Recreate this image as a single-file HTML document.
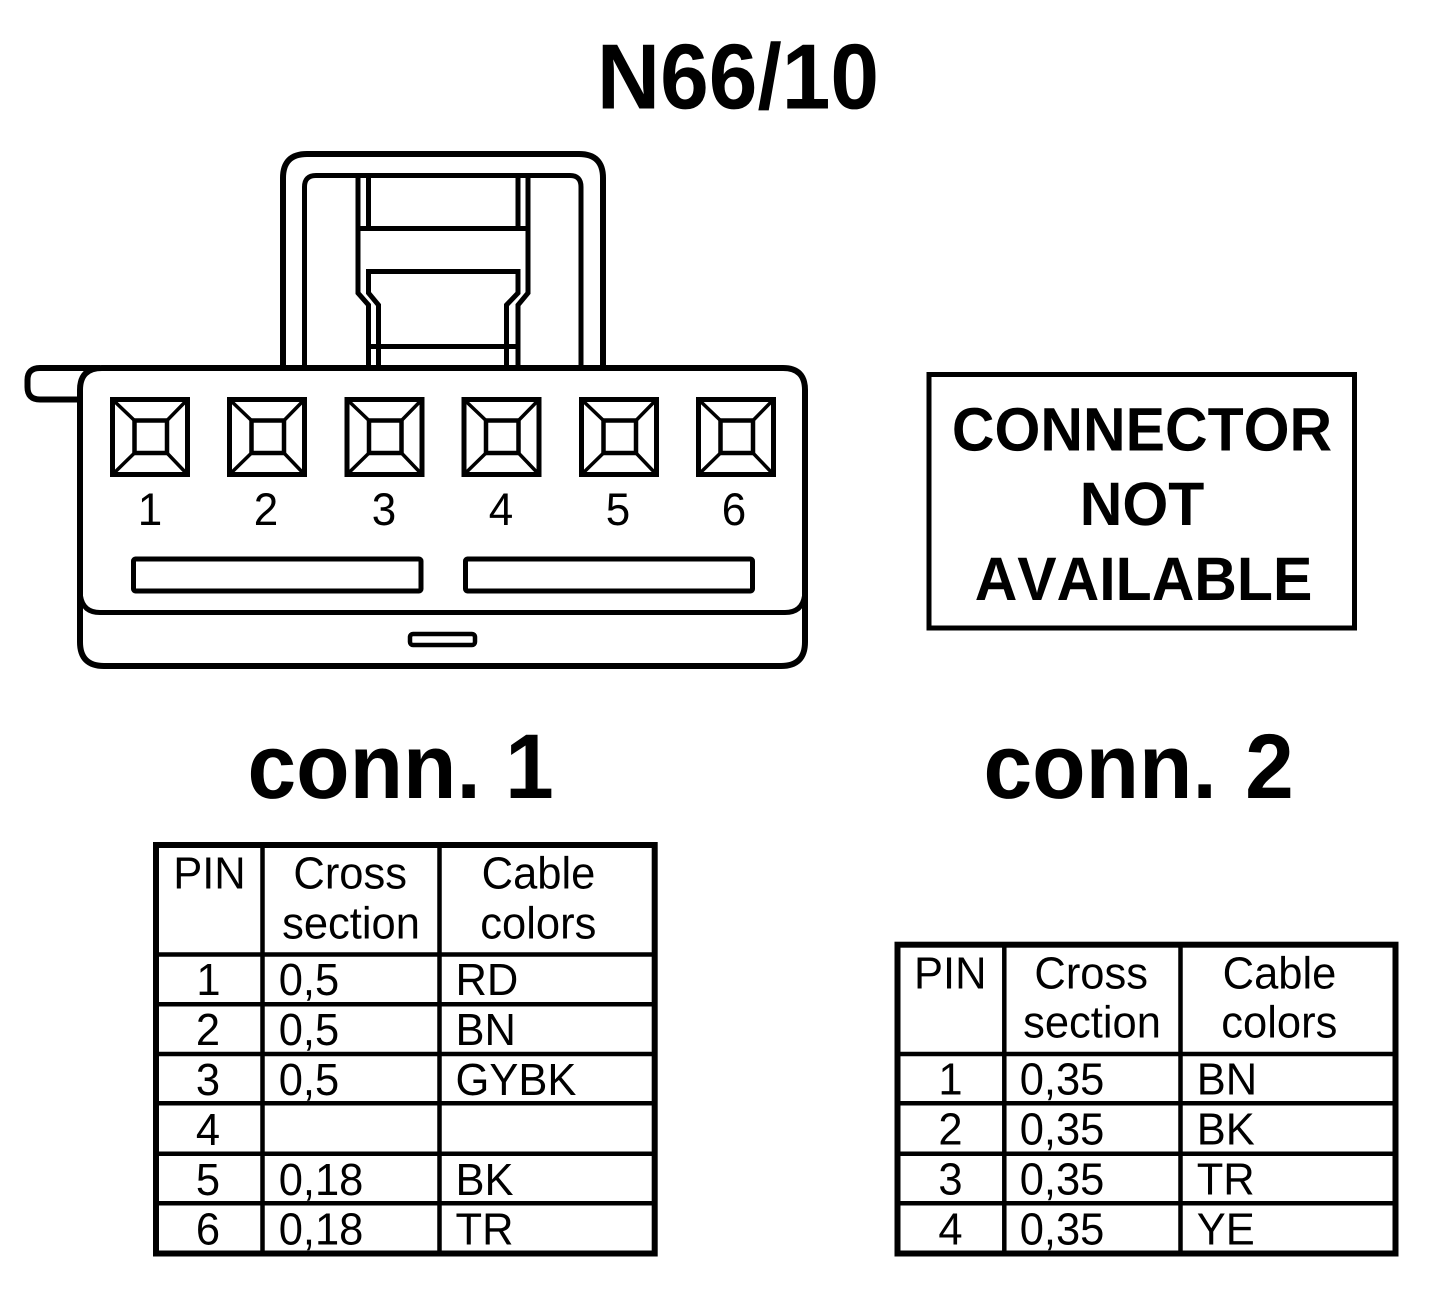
<!DOCTYPE html>
<html>
<head>
<meta charset="utf-8">
<title>N66/10</title>
<style>
html,body{margin:0;padding:0;background:#fff;}
svg{display:block;}
text{font-family:"Liberation Sans",Arial,sans-serif;fill:#000;font-kerning:none;text-rendering:geometricPrecision;}
.b{font-weight:bold;}
.t{font-size:43.5px;}
.p{font-size:44px;}
.h{font-size:87.5px;font-weight:bold;}
.c{font-size:59px;font-weight:bold;text-anchor:middle;}
.m{text-anchor:middle;}
.l{fill:none;stroke:#000;stroke-width:5;}
.i{fill:none;stroke:#000;stroke-width:4.5;}
.n{fill:none;stroke:#000;stroke-width:4.5;}
.g{fill:none;stroke:#000;stroke-width:6;}
</style>
</head>
<body>
<svg width="1456" height="1296" viewBox="0 0 1456 1296" xmlns="http://www.w3.org/2000/svg">
<defs>
<g id="sq">
<rect x="2.5" y="2.5" width="75" height="75" class="l"/>
<rect x="24.500" y="23.500" width="32.500" height="32.500" class="i"/>
<path d="M2 2L24.500 23.500M78 2L57 23.500M2 78L24.500 56M78 78L57 56" fill="none" stroke="#000" stroke-width="3.5"/>
</g>
</defs>
<rect width="1456" height="1296" fill="#fff"/>

<text transform="matrix(1 0 0 1.06 738 108.500)" class="h m">N66/10</text>

<!-- handle -->
<path d="M283 367V178Q283 154 307 154H579Q603 154 603 178V367" class="g"/>
<path d="M304.500 367V187Q304.500 175.500 316 175.500H570Q581 175.500 581 187V367" class="l"/>
<!-- strap -->
<path d="M358 176V293L368.500 305V367M528 176V293L518 305V367" class="l"/>
<path d="M368.500 176V228M518 176V228M358 228.500H528" class="l"/>
<path d="M378.500 367V305L368.500 293V271.500H518V293L506.500 305V367" class="l"/>
<path d="M368.500 346.500H518" class="l"/>

<!-- tab -->
<path d="M80 399.500H40Q27.500 399.500 27.500 387V380Q27.500 368 40 368H100" class="g"/>
<!-- body -->
<path d="M80 400V390Q80 368 102 368H783Q805 368 805 390V642Q805 666 781 666H104Q80 666 80 642Z" fill="#fff" stroke="#000" stroke-width="6"/>
<path d="M80.500 596Q83 612.500 100 612.500H785Q802 612.500 804.500 596" class="l"/>

<use href="#sq" x="110" y="397"/>
<use href="#sq" x="227" y="397"/>
<use href="#sq" x="344.500" y="397"/>
<use href="#sq" x="461.500" y="397"/>
<use href="#sq" x="579" y="397"/>
<use href="#sq" x="696" y="397"/>

<text transform="matrix(1 0 0 1.04 150 525)" class="p m">1</text>
<text transform="matrix(1 0 0 1.04 266 525)" class="p m">2</text>
<text transform="matrix(1 0 0 1.04 384 525)" class="p m">3</text>
<text transform="matrix(1 0 0 1.04 501 525)" class="p m">4</text>
<text transform="matrix(1 0 0 1.04 618 525)" class="p m">5</text>
<text transform="matrix(1 0 0 1.04 734 525)" class="p m">6</text>

<rect x="133.500" y="559" width="287.500" height="32" rx="2" class="l"/>
<rect x="465.500" y="559" width="287" height="32" rx="2" class="l"/>
<rect x="410" y="634" width="65" height="11" rx="3" class="n"/>

<!-- not available -->
<rect x="929" y="374.500" width="425.500" height="253.500" fill="none" stroke="#000" stroke-width="5"/>
<text transform="matrix(1 0 0 1.042 1142 450.700)" class="c">CONNECTOR</text>
<text transform="matrix(1 0 0 1.042 1142 525)" class="c">NOT</text>
<text transform="matrix(1 0 0 1.042 1143.500 600)" class="c">AVAILABLE</text>

<text transform="matrix(1 0 0 1.05 247.500 798)" class="h">conn. 1</text>
<text transform="matrix(1 0 0 1.05 983.500 798)" class="h" word-spacing="4">conn. 2</text>

<!-- table 1 -->
<rect x="156" y="845" width="498.700" height="408.500" class="g"/>
<path d="M262.500 845V1253M439.500 845V1253M156 954.500H654M156 1004.200H654M156 1054H654M156 1103.300H654M156 1153.800H654M156 1203.300H654" class="i"/>
<text transform="matrix(1 0 0 1.036 173.200 888.700)" class="t">PIN</text>
<text transform="matrix(1 0 0 1.036 350.200 888.700)" class="t m">Cross</text>
<text transform="matrix(1 0 0 1.036 351 938.300)" class="t m">section</text>
<text transform="matrix(1 0 0 1.036 538.500 888.700)" class="t m">Cable</text>
<text transform="matrix(1 0 0 1.036 538.300 938.300)" class="t m">colors</text>
<text transform="matrix(1 0 0 1.036 208.500 995)" class="t m">1</text><text transform="matrix(1 0 0 1.036 278.700 995)" class="t">0,5</text><text transform="matrix(1 0 0 1.036 455.500 995)" class="t">RD</text>
<text transform="matrix(1 0 0 1.036 208 1045)" class="t m">2</text><text transform="matrix(1 0 0 1.036 278.700 1045)" class="t">0,5</text><text transform="matrix(1 0 0 1.036 455.500 1045)" class="t">BN</text>
<text transform="matrix(1 0 0 1.036 208 1094.800)" class="t m">3</text><text transform="matrix(1 0 0 1.036 278.700 1094.800)" class="t">0,5</text><text transform="matrix(1 0 0 1.036 455.500 1094.800)" class="t">GYBK</text>
<text transform="matrix(1 0 0 1.036 208 1144.800)" class="t m">4</text>
<text transform="matrix(1 0 0 1.036 208 1194.800)" class="t m">5</text><text transform="matrix(1 0 0 1.036 278.700 1194.800)" class="t">0,18</text><text transform="matrix(1 0 0 1.036 455.500 1194.800)" class="t">BK</text>
<text transform="matrix(1 0 0 1.036 208 1244.300)" class="t m">6</text><text transform="matrix(1 0 0 1.036 278.700 1244.300)" class="t">0,18</text><text transform="matrix(1 0 0 1.036 455.500 1244.300)" class="t">TR</text>

<!-- table 2 -->
<rect x="897.500" y="944.700" width="498" height="308.800" fill="none" stroke="#000" stroke-width="6"/>
<path d="M1004.300 945V1253M1180.500 945V1253M897 1054H1395M897 1103.300H1395M897 1153.800H1395M897 1203.300H1395" class="i"/>
<text transform="matrix(1 0 0 1.036 914 988.300)" class="t">PIN</text>
<text transform="matrix(1 0 0 1.036 1091.200 988.300)" class="t m">Cross</text>
<text transform="matrix(1 0 0 1.036 1092 1037.300)" class="t m">section</text>
<text transform="matrix(1 0 0 1.036 1279.500 988.300)" class="t m">Cable</text>
<text transform="matrix(1 0 0 1.036 1279.300 1037.300)" class="t m">colors</text>
<text transform="matrix(1 0 0 1.036 950.500 1094.300)" class="t m">1</text><text transform="matrix(1 0 0 1.036 1019.700 1094.300)" class="t">0,35</text><text transform="matrix(1 0 0 1.036 1196.700 1094.300)" class="t">BN</text>
<text transform="matrix(1 0 0 1.036 950.500 1144.300)" class="t m">2</text><text transform="matrix(1 0 0 1.036 1019.700 1144.300)" class="t">0,35</text><text transform="matrix(1 0 0 1.036 1196.700 1144.300)" class="t">BK</text>
<text transform="matrix(1 0 0 1.036 950.500 1194.300)" class="t m">3</text><text transform="matrix(1 0 0 1.036 1019.700 1194.300)" class="t">0,35</text><text transform="matrix(1 0 0 1.036 1196.700 1194.300)" class="t">TR</text>
<text transform="matrix(1 0 0 1.036 950.500 1244.300)" class="t m">4</text><text transform="matrix(1 0 0 1.036 1019.700 1244.300)" class="t">0,35</text><text transform="matrix(1 0 0 1.036 1196.700 1244.300)" class="t">YE</text>
</svg>
</body>
</html>
